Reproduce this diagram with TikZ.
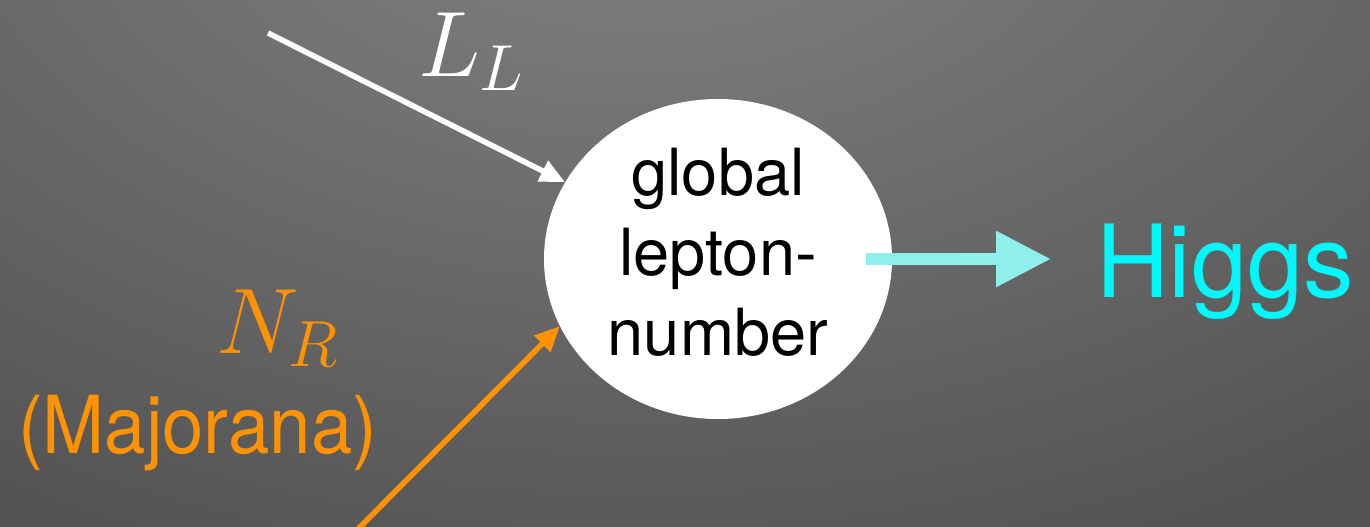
\RequirePackage{fix-cm}
\documentclass[tikz,border=0pt]{standalone}
\usepackage{fontspec}
\newfontfamily\heros{TeX Gyre Heros}
\newfontfamily\herosn[FakeStretch=0.93]{TeX Gyre Heros}
\usetikzlibrary{arrows.meta,shapes.geometric}
\definecolor{bgc}{RGB}{132,132,132}
\definecolor{bge}{RGB}{84,84,84}
\definecolor{lorange}{RGB}{255,146,0}
\definecolor{hcyan}{RGB}{0,248,250}
\definecolor{acyan}{RGB}{143,240,235}
\pgfdeclareradialshading{bgrad}{\pgfpoint{0bp}{0bp}}{color(0bp)=(bgc); color(25bp)=(bge); color(50bp)=(bge)}
\begin{document}
\begin{tikzpicture}[x=1pt,y=-1pt,
  txt/.style={inner sep=0pt, outer sep=0pt},
  mathlab/.style={txt, font=\fontsize{93}{93}\selectfont, anchor=base west},
  blobtext/.style={txt, font=\heros\fontsize{65}{80}\selectfont, align=center},
  majtext/.style={txt, font=\herosn\fontsize{80}{80}\selectfont, anchor=base west},
  higgstext/.style={txt, font=\heros\fontsize{101}{101}\selectfont, anchor=base west},
  conn/.style={line width=5.5pt, -{Triangle[length=25pt,width=22pt]}},
  fatconn/.style={line width=12pt, -{Triangle[length=55pt,width=53pt]}, color=acyan}
]
% background
\fill[bge] (0,0) rectangle (1370,527);
\begin{scope}
\clip (0,0) rectangle (1370,527);
\shade[shading=bgrad] (640,-150) ellipse [x radius=1200, y radius=750];
\end{scope}
\useasboundingbox (0,0) rectangle (1370,527);

% central blob
\node[ellipse, fill=white, minimum width=348pt, minimum height=320pt, inner sep=0pt] (gln) at (718,259) {};
\node[blobtext, text=black] (glntxt) at (718,252) {global\\lepton-\\number};

% labels
\node[mathlab, text=white] (LL) at (418,77) {$L_L$};
\node[mathlab, text=lorange] (NR) at (216,353) {$N_R$};
\node[majtext, text=lorange] (maj) at (18,453) {(Majorana)};
\node[higgstext, text=hcyan] (higgs) at (1096,297) {Higgs};

% connectors
\coordinate (Ls) at (268,33);
\coordinate (Ns) at (357,530);
\draw[conn, white] (Ls) -- (gln);
\draw[conn, lorange] (Ns) -- (gln.203);
\coordinate (hs) at ([xshift=-26pt]gln.east);
\coordinate (hx) at (hs -| higgs.west);
\draw[fatconn] (hs) -- ([xshift=-45pt]hx);
\end{tikzpicture}
\end{document}
